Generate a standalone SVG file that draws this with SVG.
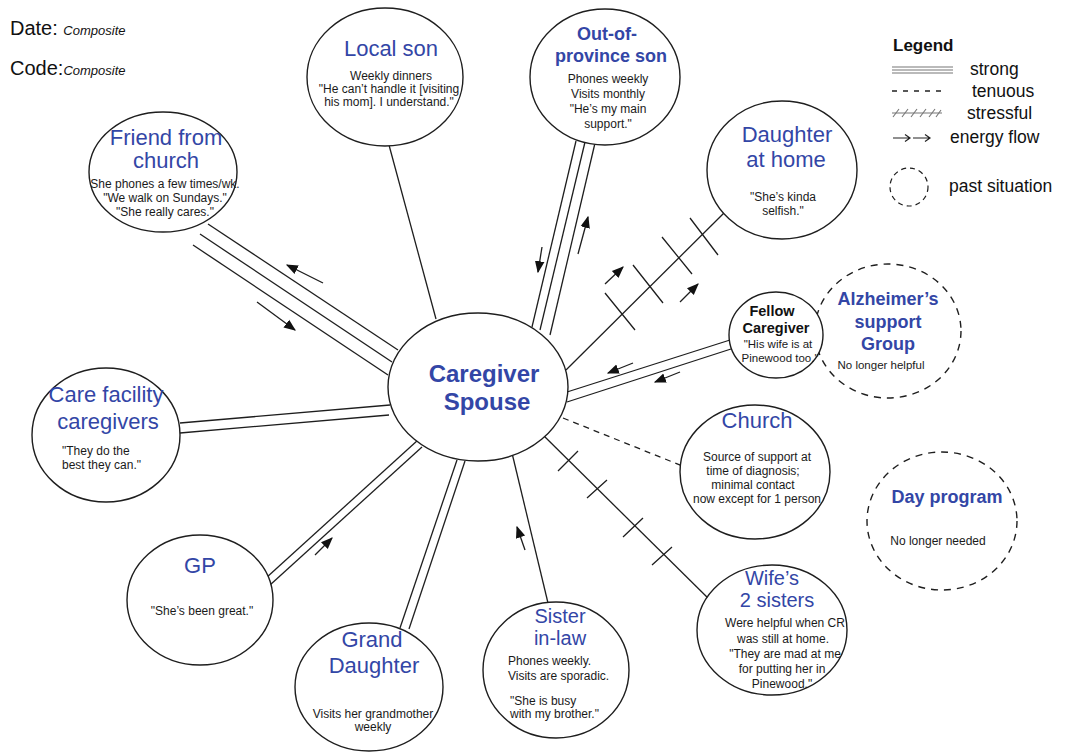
<svg xmlns="http://www.w3.org/2000/svg" width="1067" height="754" viewBox="0 0 1067 754">
<style>
.c{stroke:#1e1e1e;stroke-width:1.3;fill:none}
.n{stroke:#1e1e1e;stroke-width:1.4;fill:#fff}
.p{stroke:#1e1e1e;stroke-width:1.4;fill:none;stroke-dasharray:7,6}
.t{font-family:"Liberation Sans",Arial,sans-serif;fill:#3346a6;font-size:22px;text-anchor:middle}
.tb{font-family:"Liberation Sans",Arial,sans-serif;fill:#3346a6;font-size:18px;font-weight:bold;text-anchor:middle}
.s{font-family:"Liberation Sans",Arial,sans-serif;fill:#1a1a1a;font-size:12px;text-anchor:middle}
.sl{font-family:"Liberation Sans",Arial,sans-serif;fill:#1a1a1a;font-size:12px}
.lg{font-family:"Liberation Sans",Arial,sans-serif;fill:#111;font-size:17.5px}
.a{stroke:#1e1e1e;stroke-width:1.3;fill:none;marker-end:url(#ah)}
</style>
<defs>
<marker id="ah" viewBox="0 0 10 10" refX="9" refY="5" markerWidth="12" markerHeight="12" markerUnits="userSpaceOnUse" orient="auto"><path d="M0,1 L10,5 L0,9 z" fill="#111"/></marker>
</defs>
<rect width="1067" height="754" fill="#fff"/>

<g id="header">
<text x="10" y="35" class="lg" style="font-size:20px">Date: <tspan style="font-size:13px;font-style:italic">Composite</tspan></text>
<text x="10" y="75" class="lg" style="font-size:20px">Code:<tspan style="font-size:13px;font-style:italic">Composite</tspan></text>
</g>

<g id="legend">
<text x="893" y="51" class="lg" style="font-weight:bold;font-size:17px">Legend</text>
<g stroke="#777" stroke-width="1.2">
<line x1="892" y1="67" x2="953" y2="67"/><line x1="892" y1="70" x2="953" y2="70"/><line x1="892" y1="73" x2="953" y2="73"/>
</g>
<text x="970" y="75" class="lg">strong</text>
<line x1="892" y1="91" x2="946" y2="91" stroke="#222" stroke-width="1.3" stroke-dasharray="5,6"/>
<text x="972" y="97" class="lg">tenuous</text>
<line x1="892" y1="113" x2="942" y2="113" stroke="#777" stroke-width="1.2"/>
<path d="M893,117 L899,109 M902,117 L908,109 M911,117 L917,109 M920,117 L926,109 M929,117 L935,109 M936,117 L941,110" stroke="#777" stroke-width="1.1" fill="none"/>
<text x="967" y="119" class="lg">stressful</text>
<path d="M893,138 H910 M905,134.5 L910,138 L905,141.5 M913,138 H930 M925,134.5 L930,138 L925,141.5" stroke="#222" stroke-width="1.2" fill="none"/>
<text x="950" y="143" class="lg">energy flow</text>
<ellipse cx="909" cy="187" rx="19" ry="19" class="p" style="stroke-dasharray:5,4;stroke-width:1.2"/>
<text x="949" y="192" class="lg">past situation</text>
</g>

<g id="connectors">
<!-- friend from church: triple -->
<line class="c" x1="208" y1="224" x2="398" y2="350"/>
<line class="c" x1="200" y1="234" x2="392" y2="362"/>
<line class="c" x1="193" y1="245" x2="388" y2="375"/>
<line class="a" x1="323" y1="283" x2="287" y2="265"/>
<line class="a" x1="257" y1="302" x2="295" y2="330"/>
<!-- local son -->
<line class="c" x1="389" y1="145" x2="436" y2="319"/>
<!-- out of province son: triple -->
<line class="c" x1="576" y1="141" x2="532" y2="327"/>
<line class="c" x1="585" y1="142" x2="540" y2="330"/>
<line class="c" x1="595" y1="143" x2="550" y2="335"/>
<line class="a" x1="542" y1="247" x2="538" y2="272"/>
<line class="a" x1="578" y1="254" x2="588" y2="217"/>
<!-- daughter at home: stressful -->
<line class="c" x1="726" y1="211" x2="566" y2="370"/>
<path class="c" d="M690,218 L718,255 M662,237 L692,274 M633,265 L663,303 M605,293 L635,330"/>
<line class="a" x1="605" y1="284" x2="623" y2="267"/>
<line class="a" x1="680" y1="302" x2="698" y2="284"/>
<!-- fellow caregiver: double -->
<line class="c" x1="567" y1="392" x2="730" y2="340"/>
<line class="c" x1="567" y1="402" x2="731" y2="349"/>
<line class="a" x1="633" y1="363" x2="608" y2="373"/>
<line class="a" x1="680" y1="372" x2="655" y2="382"/>
<!-- care facility: double -->
<line class="c" x1="180" y1="423" x2="390" y2="405"/>
<line class="c" x1="180" y1="433" x2="389" y2="415"/>
<!-- GP: double -->
<line class="c" x1="266" y1="578" x2="418" y2="440"/>
<line class="c" x1="270" y1="585" x2="422" y2="447"/>
<line class="a" x1="315" y1="555" x2="332" y2="538"/>
<!-- grand daughter: double -->
<line class="c" x1="400" y1="628" x2="457" y2="460"/>
<line class="c" x1="409" y1="629" x2="465" y2="461"/>
<!-- sister in-law -->
<line class="c" x1="512" y1="453" x2="548" y2="603"/>
<line class="a" x1="525" y1="550" x2="517" y2="527"/>
<!-- church: tenuous -->
<line class="c" x1="563" y1="418" x2="685" y2="467" stroke-dasharray="6,5"/>
<!-- wife's 2 sisters: stressful -->
<line class="c" x1="542" y1="434" x2="714" y2="604"/>
<path class="c" d="M558,471 L578,451 M587,498 L607,480 M623,537 L643,518 M652,565 L672,547"/>
</g>

<g id="friend-from-church">
<ellipse class="n" cx="163" cy="172" rx="74" ry="60"/>
<text class="t" x="166" y="145">Friend from</text>
<text class="t" x="166" y="168">church</text>
<text class="s" x="165" y="188">She phones a few times/wk.</text>
<text class="s" x="165" y="202">"We walk on Sundays."</text>
<text class="s" x="165" y="216">"She really cares."</text>
</g>

<g id="local-son">
<ellipse class="n" cx="385" cy="77" rx="78" ry="69"/>
<text class="t" x="391" y="56">Local son</text>
<text class="s" x="391" y="80">Weekly dinners</text>
<text class="s" x="389" y="93">"He can’t handle it [visiting</text>
<text class="s" x="389" y="106">his mom]. I understand."</text>
</g>

<g id="out-of-province-son">
<ellipse class="n" cx="605" cy="77" rx="75" ry="68"/>
<text class="tb" x="607" y="40">Out-of-</text>
<text class="tb" x="611" y="62">province son</text>
<text class="s" x="608" y="83">Phones weekly</text>
<text class="s" x="608" y="98">Visits monthly</text>
<text class="s" x="608" y="113">"He’s my main</text>
<text class="s" x="608" y="128">support."</text>
</g>

<g id="daughter-at-home">
<ellipse class="n" cx="782" cy="170" rx="75" ry="69"/>
<text class="t" x="787" y="142">Daughter</text>
<text class="t" x="786" y="167">at home</text>
<text class="s" x="783" y="201">"She’s kinda</text>
<text class="s" x="783" y="215">selfish."</text>
</g>

<g id="alzheimers-support-group">
<ellipse class="p" cx="888" cy="331" rx="73" ry="67"/>
<text class="tb" x="888" y="305">Alzheimer’s</text>
<text class="tb" x="888" y="328">support</text>
<text class="tb" x="888" y="350">Group</text>
<text class="s" x="881" y="369" style="font-size:11.5px">No longer helpful</text>
</g>

<g id="fellow-caregiver">
<ellipse class="n" cx="776" cy="335" rx="47" ry="43"/>
<text class="s" x="772" y="316" style="font-weight:bold;font-size:14.5px;fill:#111">Fellow</text>
<text class="s" x="776" y="333" style="font-weight:bold;font-size:14.5px;fill:#111">Caregiver</text>
<text class="s" x="778" y="348" style="font-size:11.5px">"His wife is at</text>
<text class="s" x="780" y="362" style="font-size:11.5px">Pinewood too."</text>
</g>

<g id="church">
<ellipse class="n" cx="755" cy="472" rx="75" ry="67"/>
<text class="t" x="757" y="428">Church</text>
<text class="s" x="757" y="461">Source of support at</text>
<text class="s" x="753" y="475">time of diagnosis;</text>
<text class="s" x="753" y="489">minimal contact</text>
<text class="s" x="757" y="503">now except for 1 person</text>
</g>

<g id="day-program">
<ellipse class="p" cx="942" cy="521" rx="75" ry="69"/>
<text class="tb" x="947" y="503">Day program</text>
<text class="s" x="938" y="545">No longer needed</text>
</g>

<g id="wifes-2-sisters">
<ellipse class="n" cx="772" cy="630" rx="75" ry="65"/>
<text class="t" x="772" y="585" style="font-size:20px">Wife’s</text>
<text class="t" x="777" y="607" style="font-size:20px">2 sisters</text>
<text class="s" x="785" y="627">Were helpful when CR</text>
<text class="s" x="783" y="643">was still at home.</text>
<text class="s" x="785" y="658">"They are mad at me</text>
<text class="s" x="782" y="673">for putting her in</text>
<text class="s" x="782" y="688">Pinewood."</text>
</g>

<g id="sister-in-law">
<ellipse class="n" cx="556" cy="670" rx="73" ry="68"/>
<text class="t" x="560" y="623" style="font-size:20px">Sister</text>
<text class="t" x="560" y="645" style="font-size:20px">in-law</text>
<text class="sl" x="508" y="665">Phones weekly.</text>
<text class="sl" x="508" y="680">Visits are sporadic.</text>
<text class="sl" x="510" y="705">"She is busy</text>
<text class="sl" x="510" y="718">with my brother."</text>
</g>

<g id="grand-daughter">
<ellipse class="n" cx="369" cy="687" rx="74" ry="64"/>
<text class="t" x="372" y="647">Grand</text>
<text class="t" x="374" y="673">Daughter</text>
<text class="s" x="373" y="718">Visits her grandmother</text>
<text class="s" x="373" y="731">weekly</text>
</g>

<g id="gp">
<ellipse class="n" cx="200" cy="600" rx="73" ry="65"/>
<text class="t" x="200" y="573">GP</text>
<text class="s" x="202" y="615">"She’s been great."</text>
</g>

<g id="care-facility-caregivers">
<ellipse class="n" cx="106" cy="435" rx="74" ry="67"/>
<text class="t" x="106" y="402">Care facility</text>
<text class="t" x="108" y="429">caregivers</text>
<text class="sl" x="62" y="455">"They do the</text>
<text class="sl" x="62" y="469">best they can."</text>
</g>

<g id="caregiver-spouse">
<ellipse class="n" cx="478" cy="387" rx="90" ry="74"/>
<text class="t" x="484" y="382" style="font-weight:bold;font-size:24px">Caregiver</text>
<text class="t" x="487" y="410" style="font-weight:bold;font-size:24px">Spouse</text>
</g>
</svg>
